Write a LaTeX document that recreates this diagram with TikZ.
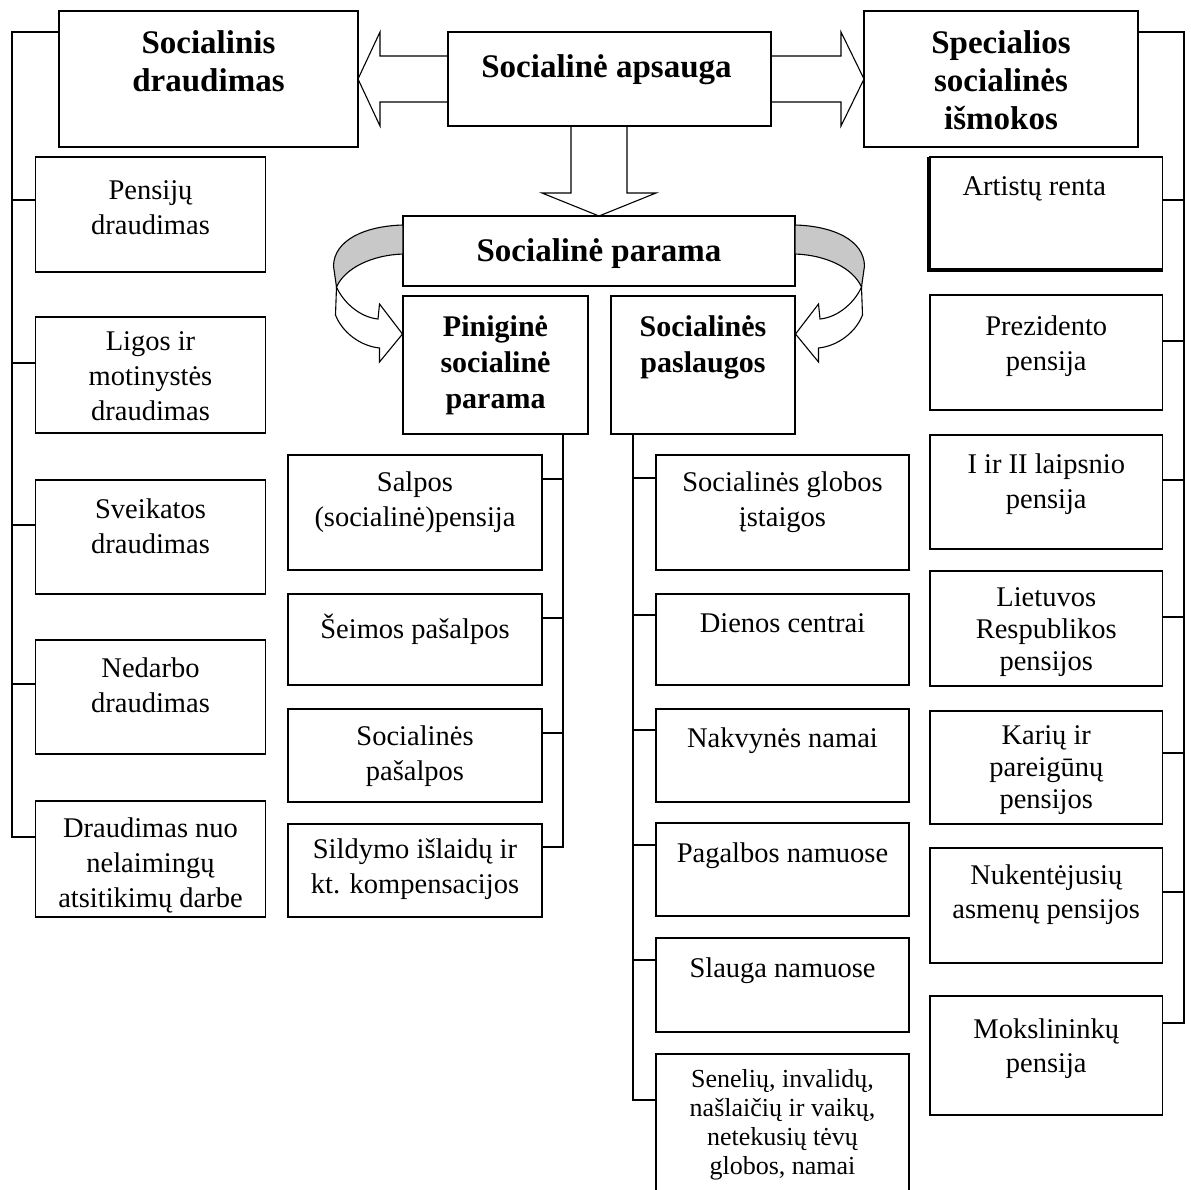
\documentclass[tikz,border=0pt]{standalone}
\usepackage{fontspec}
\setmainfont{Liberation Serif}
\usetikzlibrary{calc}
\definecolor{bandgray}{RGB}{200,200,200}
\tikzset{
  box/.style={draw=black, line width=1.6pt, anchor=north west, inner sep=0pt, outer sep=0pt},
  ln/.style={draw=black, line width=1.6pt},
  txt/.style={anchor=north, align=center, inner sep=0pt, font=\fontsize{28.5}{35}\selectfont},
  txtsm/.style={anchor=north, align=center, inner sep=0pt, font=\fontsize{26}{29}\selectfont},
  head/.style={anchor=north, align=center, inner sep=0pt, font=\fontsize{33}{38}\selectfont\bfseries},
  subhead/.style={anchor=north, align=center, inner sep=0pt, font=\fontsize{30}{36}\selectfont\bfseries},
  blk/.style={draw=black, line width=1.1pt, line join=miter},
  band/.style={draw=black, line width=1.1pt, fill=bandgray},
}
\begin{document}
\begin{tikzpicture}[x=1pt, y=-1pt]
\useasboundingbox (0,0) rectangle (1191,1189);

% ---- top level ----
\node[box, minimum width=299pt, minimum height=136pt] (sd) at (59,11) {};
\node[box, minimum width=323pt, minimum height=94pt]  (sa) at (448,32) {};
\node[box, minimum width=274pt, minimum height=136pt] (ss) at (864,11) {};
\node[head] (sdt) at ($(sd.north)+(0,19)$) {Socialinis\\draudimas};
\node[head] (sat) at ($(sa.north)+(-3,22)$) {Socialinė apsauga};
\node[head] (sst) at ($(ss.north)+(0,19)$) {Specialios\\socialinės\\išmokos};

% ---- social support ----
\node[box, minimum width=392pt, minimum height=70pt]  (sp)  at (403,216) {};
\node[box, minimum width=185pt, minimum height=138pt] (pin) at (403,296) {};
\node[box, minimum width=184pt, minimum height=138pt] (spl) at (611,296) {};
\node[head] (spt) at ($(sp.north)+(0,22)$) {Socialinė parama};
\node[subhead] (pint) at ($(pin.north)+(0,19)$) {Piniginė\\socialinė\\parama};
\node[subhead] (splt) at ($(spl.north)+(0,19)$) {Socialinės\\paslaugos};

% ---- social insurance column ----
\node[box, minimum width=230pt, minimum height=115pt] (l1) at (35.5,157) {};
\node[box, minimum width=230pt, minimum height=116pt] (l2) at (35.5,317) {};
\node[box, minimum width=230pt, minimum height=114pt] (l3) at (35.5,480) {};
\node[box, minimum width=230pt, minimum height=114pt] (l4) at (35.5,640) {};
\node[box, minimum width=230pt, minimum height=116pt] (l5) at (35.5,801) {};
\node[txt] (l1t) at ($(l1.north)+(0,23)$) {Pensijų\\draudimas};
\node[txt] (l2t) at ($(l2.north)+(0,14)$) {Ligos ir\\motinystės\\draudimas};
\node[txt] (l3t) at ($(l3.north)+(0,19)$) {Sveikatos\\draudimas};
\node[txt] (l4t) at ($(l4.north)+(0,18)$) {Nedarbo\\draudimas};
\node[txt] (l5t) at ($(l5.north)+(0,17)$) {Draudimas nuo\\nelaimingų\\atsitikimų darbe};

% ---- monetary support column ----
\node[box, minimum width=254pt, minimum height=115pt] (m1) at (288,455) {};
\node[box, minimum width=254pt, minimum height=91pt]  (m2) at (288,594) {};
\node[box, minimum width=254pt, minimum height=93pt]  (m3) at (288,709) {};
\node[box, minimum width=254pt, minimum height=93pt]  (m4) at (288,824) {};
\node[txt] (m1t) at ($(m1.north)+(0,17)$) {Salpos\\(socialinė)pensija};
\node[txt] (m2t) at ($(m2.north)+(0,20)$) {Šeimos pašalpos};
\node[txt] (m3t) at ($(m3.north)+(0,17)$) {Socialinės\\pašalpos};
\node[txt] (m4t) at ($(m4.north)+(0,14)$) {Sildymo išlaidų ir\\kt. kompensacijos};

% ---- social services column ----
\node[box, minimum width=253pt, minimum height=115pt] (r1) at (656,455) {};
\node[box, minimum width=253pt, minimum height=91pt]  (r2) at (656,594) {};
\node[box, minimum width=253pt, minimum height=93pt]  (r3) at (656,709) {};
\node[box, minimum width=253pt, minimum height=93pt]  (r4) at (656,823) {};
\node[box, minimum width=253pt, minimum height=94pt]  (r5) at (656,938) {};
\node[box, minimum width=253pt, minimum height=160pt] (r6) at (656,1054) {};
\node[txt] (r1t) at ($(r1.north)+(0,17)$) {Socialinės globos\\įstaigos};
\node[txt] (r2t) at ($(r2.north)+(0,19)$) {Dienos centrai};
\node[txt] (r3t) at ($(r3.north)+(0,19)$) {Nakvynės namai};
\node[txt] (r4t) at ($(r4.north)+(0,20)$) {Pagalbos namuose};
\node[txt] (r5t) at ($(r5.north)+(0,20)$) {Slauga namuose};
\node[txtsm] (r6t) at ($(r6.north)+(0,15)$) {Senelių, invalidų,\\našlaičių ir vaikų,\\netekusių tėvų\\globos, namai};

% ---- special benefits column ----
\node[box, minimum width=232.5pt, minimum height=112pt] (s1) at (930,157) {};
\node[box, minimum width=232.5pt, minimum height=115pt] (s2) at (930,295) {};
\node[box, minimum width=232.5pt, minimum height=114pt] (s3) at (930,435) {};
\node[box, minimum width=232.5pt, minimum height=115pt] (s4) at (930,571) {};
\node[box, minimum width=232.5pt, minimum height=113pt] (s5) at (930,711) {};
\node[box, minimum width=232.5pt, minimum height=115pt] (s6) at (930,848) {};
\node[box, minimum width=232.5pt, minimum height=119pt] (s7) at (930,996) {};
\draw[line width=3.5pt] ([xshift=-0.8pt]s1.north west) -- ([xshift=-0.8pt,yshift=-0.8pt]s1.south west) -- ([yshift=-0.8pt]s1.south east);
\node[txt] (s1t) at ($(s1.north)+(-12,19)$) {Artistų renta};
\node[txt] (s2t) at ($(s2.north)+(0,21)$) {Prezidento\\pensija};
\node[txt] (s3t) at ($(s3.north)+(0,19)$) {I ir II laipsnio\\pensija};
\node[txt, font=\fontsize{28.5}{32}\selectfont] (s4t) at ($(s4.north)+(0,16)$) {Lietuvos\\Respublikos\\pensijos};
\node[txt, font=\fontsize{28.5}{32}\selectfont] (s5t) at ($(s5.north)+(0,14)$) {Karių ir\\pareigūnų\\pensijos};
\node[txt, font=\fontsize{28.5}{34}\selectfont] (s6t) at ($(s6.north)+(0,17)$) {Nukentėjusių\\asmenų pensijos};
\node[txt, font=\fontsize{28.5}{34}\selectfont] (s7t) at ($(s7.north)+(0,23)$) {Mokslininkų\\pensija};

% ---- tree connectors ----
\coordinate (busL) at (12,32);
\foreach \n/\c in {l1/43, l2/46, l3/45, l4/44, l5/36}
  \draw[ln] ($(sd.north west)+(0,21)$) -- (busL) |- ($(\n.north west)+(0,\c)$);
\coordinate (busM) at ($(pin.south east)+(-25,0)$);
\foreach \n/\c in {m1/24, m2/24, m3/24, m4/23}
  \draw[ln] (busM) |- ($(\n.north east)+(0,\c)$);
\coordinate (busN) at ($(spl.south west)+(22,0)$);
\foreach \n/\c in {r1/23, r2/21, r3/21, r4/22, r5/22, r6/46}
  \draw[ln] (busN) |- ($(\n.north west)+(0,\c)$);
\coordinate (busR) at (1184,32);
\foreach \n/\c in {s1/43, s2/46, s3/45, s4/46, s5/42, s6/44, s7/27}
  \draw[ln] ($(ss.north east)+(0,21)$) -- (busR) |- ($(\n.north east)+(0,\c)$);

% ---- block arrows from the top box ----
\draw[blk] ($(sa.west)+(0,-23)$) -- ++(-68,0) -- ++(0,-24) -- (sd.east)
  -- ($(sa.west)+(-68,47)$) -- ++(0,-24) -- ($(sa.west)+(0,23)$);
\draw[blk] ($(sa.east)+(0,-23)$) -- ++(70,0) -- ++(0,-24) -- (ss.west)
  -- ($(sa.east)+(70,47)$) -- ++(0,-24) -- ($(sa.east)+(0,23)$);
\coordinate (dn) at (sa.south -| sp.north);
\draw[blk] ($(dn)+(-28,0)$) -- ++(0,67) -- ++(-29,0) -- (sp.north)
  -- ($(dn)+(57,67)$) -- ++(-29,0) -- ($(dn)+(28,0)$);

% ---- curved arrows around the support box ----
\draw[band] (403,225) .. controls (365,226) and (334,240) .. (333.5,266)
  -- (336.5,287) .. controls (345,268) and (372,255) .. (403,254) -- cycle;
\draw[blk] (336.5,287) .. controls (342,300) and (358,317) .. (378,319)
  -- (379.5,304) -- (402.5,334) -- (379.5,362) -- (379.5,348)
  .. controls (360,346) and (342,332) .. (335.5,315) -- cycle;
\draw[band] (795,225) .. controls (833,226) and (864,240) .. (864.5,266)
  -- (861.5,287) .. controls (853,268) and (826,255) .. (795,254) -- cycle;
\draw[blk] (861.5,287) .. controls (856,300) and (840,317) .. (820,319)
  -- (818.5,304) -- (795.5,334) -- (818.5,362) -- (818.5,348)
  .. controls (838,346) and (856,332) .. (862.5,315) -- cycle;
\end{tikzpicture}
\end{document}
